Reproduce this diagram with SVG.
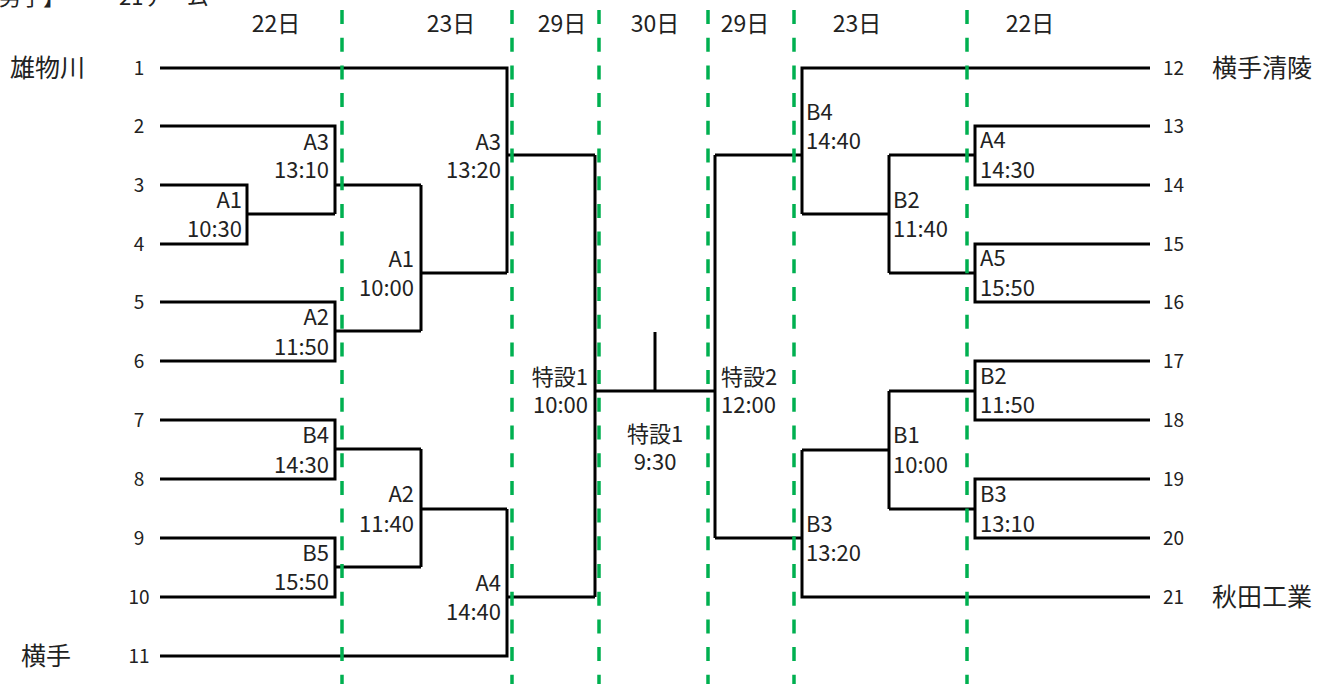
<svg xmlns="http://www.w3.org/2000/svg" width="1317" height="684" viewBox="0 0 1317 684">
<style>
text{font-family:"Noto Sans CJK JP","Noto Sans",sans-serif;fill:#222}
.hd{font-size:23px;text-anchor:middle}
.tm{font-size:25px}
.no{font-size:19px}
.nl{text-anchor:middle}
.lb{font-size:22px}
.r{text-anchor:end}
.c{text-anchor:middle}
.ln{fill:none;stroke:#000;stroke-width:3}
.gd{stroke:#00B050;stroke-width:3.5;stroke-dasharray:14 13.7}
</style>
<rect width="1317" height="684" fill="#fff"/>
<g id="title">
<text x="-1" y="5" font-size="22">男子】</text>
<text x="119" y="5" font-size="22">21チーム</text>
</g>
<g id="days">
<text class="hd" x="276" y="32">22日</text>
<text class="hd" x="451" y="32">23日</text>
<text class="hd" x="562" y="32">29日</text>
<text class="hd" x="655" y="32">30日</text>
<text class="hd" x="745" y="32">29日</text>
<text class="hd" x="857" y="32">23日</text>
<text class="hd" x="1030" y="32">22日</text>
</g>
<g id="teams">
<text class="tm" x="10" y="77">雄物川</text>
<text class="tm" x="21" y="665">横手</text>
<text class="tm" x="1212" y="77">横手清陵</text>
<text class="tm" x="1212" y="606">秋田工業</text>
</g>
<g id="numbers" class="no">
<text class="nl" x="139" y="75">1</text>
<text class="nl" x="139" y="133">2</text>
<text class="nl" x="139" y="192">3</text>
<text class="nl" x="139" y="251">4</text>
<text class="nl" x="139" y="309">5</text>
<text class="nl" x="139" y="368">6</text>
<text class="nl" x="139" y="427">7</text>
<text class="nl" x="139" y="486">8</text>
<text class="nl" x="139" y="545">9</text>
<text class="nl" x="139" y="604">10</text>
<text class="nl" x="139" y="663">11</text>
<text x="1163" y="75">12</text>
<text x="1163" y="133">13</text>
<text x="1163" y="192">14</text>
<text x="1163" y="251">15</text>
<text x="1163" y="309">16</text>
<text x="1163" y="368">17</text>
<text x="1163" y="427">18</text>
<text x="1163" y="486">19</text>
<text x="1163" y="545">20</text>
<text x="1163" y="604">21</text>
</g>
<g id="connectors" class="ln">
<path d="M160 185H247V244H160M247 214H335"/>
<path d="M160 126H335V214M335 185H421"/>
<path d="M160 302H335V361H160M335 331H421"/>
<path d="M160 420H335V479H160M335 449H421"/>
<path d="M160 538H335V597H160M335 567H421"/>
<path d="M421 185V331M421 273H507"/>
<path d="M421 449V567M421 509H507"/>
<path d="M160 68H507V273M507 155H595"/>
<path d="M160 656H507V509M507 597H595"/>
<path d="M595 155V597M595 391H715"/>
<path d="M655 332V391"/>
<path d="M715 155V538"/>
<path d="M1150 68H802V214M802 155H715"/>
<path d="M1150 597H802V450M802 538H715"/>
<path d="M802 214H889M889 155V273"/>
<path d="M802 450H889M889 391V509"/>
<path d="M889 155H975M1150 126H975V185H1150"/>
<path d="M889 273H975M1150 244H975V302H1150"/>
<path d="M889 391H975M1150 361H975V420H1150"/>
<path d="M889 509H975M1150 479H975V538H1150"/>
</g>
<g id="day-dividers" class="gd">
<line x1="342" y1="10" x2="342" y2="684"/>
<line x1="512" y1="10" x2="512" y2="684"/>
<line x1="599" y1="10" x2="599" y2="684"/>
<line x1="708" y1="10" x2="708" y2="684"/>
<line x1="794" y1="10" x2="794" y2="684"/>
<line x1="967" y1="10" x2="967" y2="684"/>
</g>
<g id="m-A1-1030"><text class="lb r" x="242" y="208">A1<tspan x="242" dy="29">10:30</tspan></text></g>
<g id="m-A3-1310"><text class="lb r" x="329" y="150">A3<tspan x="329" dy="28">13:10</tspan></text></g>
<g id="m-A2-1150"><text class="lb r" x="329" y="325">A2<tspan x="329" dy="30">11:50</tspan></text></g>
<g id="m-B4-1430"><text class="lb r" x="329" y="443">B4<tspan x="329" dy="30">14:30</tspan></text></g>
<g id="m-B5-1550"><text class="lb r" x="329" y="561">B5<tspan x="329" dy="29">15:50</tspan></text></g>
<g id="m-A1-1000"><text class="lb r" x="414" y="267">A1<tspan x="414" dy="29">10:00</tspan></text></g>
<g id="m-A2-1140"><text class="lb r" x="414" y="502">A2<tspan x="414" dy="30">11:40</tspan></text></g>
<g id="m-A3-1320"><text class="lb r" x="501" y="150">A3<tspan x="501" dy="28">13:20</tspan></text></g>
<g id="m-A4-1440"><text class="lb r" x="501" y="591">A4<tspan x="501" dy="29">14:40</tspan></text></g>
<g id="m-tokusetsu1-1000"><text class="lb r" x="588" y="385">特設1<tspan x="588" dy="28">10:00</tspan></text></g>
<g id="m-final"><text class="lb c" x="655" y="442">特設1<tspan x="655" dy="28">9:30</tspan></text></g>
<g id="m-tokusetsu2-1200"><text class="lb" x="721" y="385">特設2<tspan x="721" dy="28">12:00</tspan></text></g>
<g id="m-B4-1440"><text class="lb" x="806" y="120">B4<tspan x="806" dy="29">14:40</tspan></text></g>
<g id="m-B3-1320"><text class="lb" x="806" y="532">B3<tspan x="806" dy="29">13:20</tspan></text></g>
<g id="m-B2-1140"><text class="lb" x="893" y="208">B2<tspan x="893" dy="29">11:40</tspan></text></g>
<g id="m-B1-1000"><text class="lb" x="893" y="443">B1<tspan x="893" dy="30">10:00</tspan></text></g>
<g id="m-A4-1430"><text class="lb" x="980" y="148">A4<tspan x="980" dy="30">14:30</tspan></text></g>
<g id="m-A5-1550"><text class="lb" x="980" y="266">A5<tspan x="980" dy="30">15:50</tspan></text></g>
<g id="m-B2-1150"><text class="lb" x="980" y="384">B2<tspan x="980" dy="29">11:50</tspan></text></g>
<g id="m-B3-1310"><text class="lb" x="980" y="502">B3<tspan x="980" dy="30">13:10</tspan></text></g>
</svg>
